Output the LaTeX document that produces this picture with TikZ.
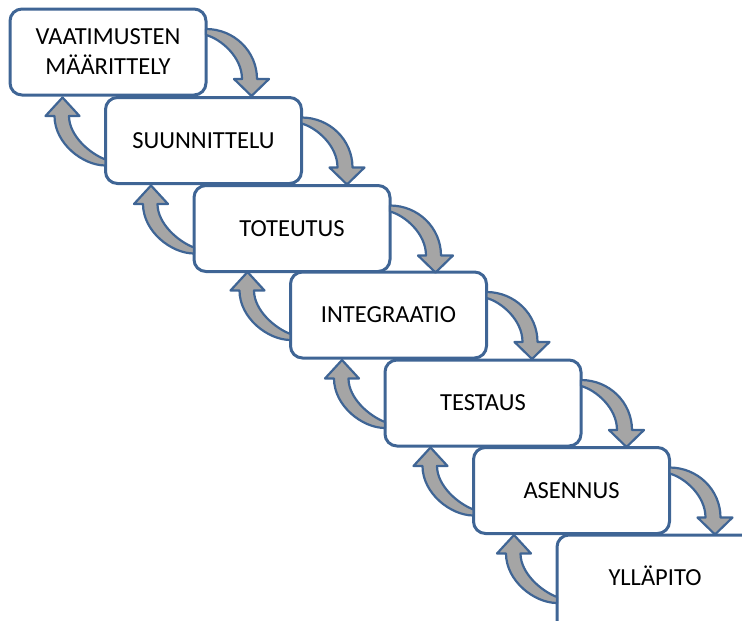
\documentclass[tikz,border=0pt]{standalone}
\usepackage{fontspec}
\setmainfont{Carlito}
\definecolor{edgeblue}{HTML}{3F6595}
\definecolor{arrowgrey}{HTML}{A5A5A5}
\tikzset{
  border/.style={draw=edgeblue, line width=3pt, rounded corners=12pt},
  stage/.style={border, fill=white,
    minimum width=196pt, minimum height=86pt, outer sep=0pt, inner sep=0pt,
    align=center, font=\fontsize{24.5}{30}\selectfont, text=black},
  oneline/.style={text height=15.8pt, text depth=0pt},
  flowarrow/.style={draw=edgeblue, line width=2.2pt, fill=arrowgrey, line join=round},
  % curved arrow from a stage's right side down onto the next stage
  fwd/.pic={\draw[flowarrow] (0,20) .. controls (28.2,20) and (51,42.4) .. (51,70)
      -- (63,70) -- (45.5,87) -- (28,70) -- (36,70)
      .. controls (36,48) and (15,30) .. (0,26) -- cycle;},
  % curved arrow from a stage's left side back up onto the previous stage
  back/.pic={\draw[flowarrow] (0,68) .. controls (-22.8,68) and (-51,45.8) .. (-51,18.5)
      -- (-60,18.5) -- (-43,0) -- (-26,18.5) -- (-36.5,18.5)
      .. controls (-36.5,38) and (-16,56) .. (0,62) -- cycle;},
}
\begin{document}
\begin{tikzpicture}[x=1pt, y=-1pt]
  \useasboundingbox (0,0) rectangle (742,621);

  \node[stage] (s1) at (108,52) {VAATIMUSTEN\\MÄÄRITTELY};
  \node[stage, oneline] (s2) at (203.5,140.5) {SUUNNITTELU};
  \node[stage, oneline] (s3) at (292,228.5) {TOTEUTUS};
  \node[stage, oneline] (s4) at (388.5,315) {INTEGRAATIO};
  \node[stage, oneline] (s5) at (483,403) {TESTAUS};
  \node[stage, oneline] (s6) at (571.5,490.5) {ASENNUS};
  % the last stage runs past the right and bottom edges of the page,
  % so only its top and left sides are stroked
  \node[stage, draw=none, minimum height=100pt, text height=15.8pt, text depth=14pt] (s7) at (655,585) {YLLÄPITO};
  \draw[border] (s7.north west) ++(188,0) -- (s7.north west) -- ++(0,88);

  \foreach \a/\b in {s1/s2, s2/s3, s3/s4, s4/s5, s5/s6, s6/s7} {
    \pic at (\a.north east) {fwd};
    \pic at (\b.north west) {back};
  }
\end{tikzpicture}
\end{document}
